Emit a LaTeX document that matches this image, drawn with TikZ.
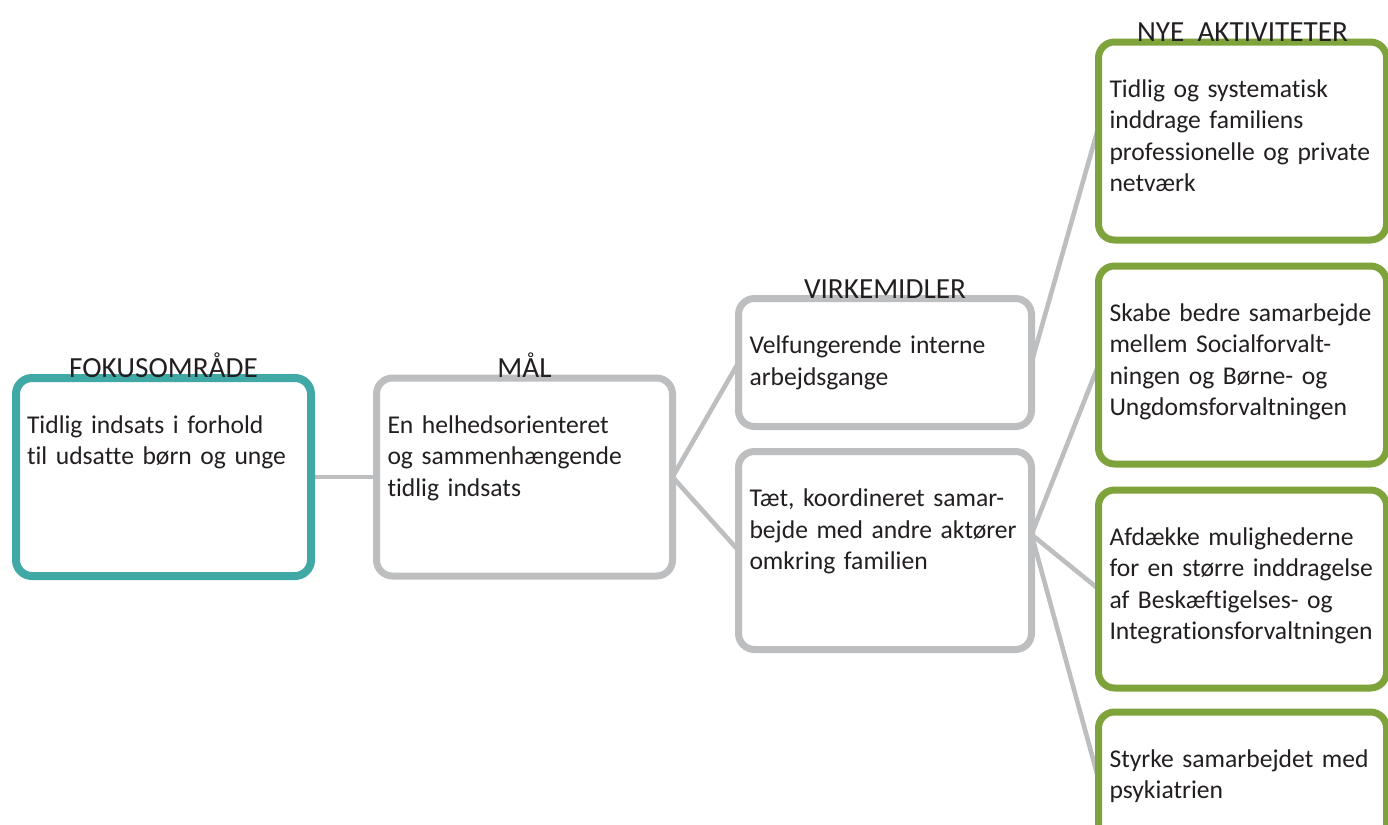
\documentclass[tikz,border=0pt]{standalone}
\usepackage{fontspec}
\setmainfont{Carlito}[Ligatures={NoCommon}]
\usetikzlibrary{positioning,backgrounds}
\definecolor{fokusteal}{HTML}{40A8A5}
\definecolor{boxgrey}{HTML}{BDBEC0}
\definecolor{aktgreen}{HTML}{7DA33A}
\definecolor{textdark}{HTML}{231F20}
\newcommand{\boxfont}{\fontsize{12.8pt}{15.8pt}\selectfont}
\newcommand{\headfont}{\fontsize{14.6pt}{16pt}\selectfont}
\hyphenpenalty=10000
\tikzset{
    box/.style={rectangle,draw=boxgrey,line width=3.5pt,rounded corners=8pt,fill=white,
        align=left,text width=135.5pt,inner xsep=5.5pt,inner ysep=0pt,outer sep=0pt,
        text height=27.5pt,text depth=71.5pt,text=textdark,font=\boxfont,
        label distance=2pt},
    fokusbox/.style={box,draw=fokusteal,line width=4pt,text width=136.5pt},
    aktbox/.style={box,draw=aktgreen,text width=133pt},
    head/.style={inner sep=0pt,text=textdark,font=\headfont},
    link/.style={draw=boxgrey,line width=2.3pt}
}

\begin{document}
\begin{tikzpicture}
    \useasboundingbox (0,0) rectangle (694pt,-412.5pt);

    \node[fokusbox] (fokus) at (81.75pt,-238.5pt) [label={[head]above:FOKUSOMRÅDE}]
        {Tidlig indsats i forhold\\til udsatte børn og unge};
    \node[box,text width=137pt] (maal) [right=32.75pt of fokus,label={[head]above:MÅL}]
        {En helhedsorienteret\\og sammenhængende\\tidlig indsats};

    \node[box,text depth=36.5pt] (virk1) [right=33pt of maal,yshift=57.25pt,label={[head]above:VIRKEMIDLER}]
        {Velfungerende interne\\arbejdsgange};
    \node[box] (virk2) [below=12.5pt of virk1]
        {Tæt, koordineret samar-\\bejde med andre aktører\\omkring familien};

    \node[aktbox] (akt1) [right=33.5pt of virk1,yshift=110.75pt,label={[head]above:NYE~~AKTIVITETER}]
        {Tidlig og systematisk\\inddrage familiens\\professionelle og private\\netværk};
    \node[aktbox] (akt2) [below=13pt of akt1]
        {Skabe bedre samarbejde\\mellem Socialforvalt-\\ningen og Børne- og\\Ungdomsforvaltningen};
    \node[aktbox] (akt3) [below=13pt of akt2]
        {Afdække mulighederne\\for en større inddragelse\\af Beskæftigelses- og\\Integrationsforvaltningen};
    \node[aktbox] (akt4) [below=12pt of akt3]
        {Styrke samarbejdet med\\psykiatrien};

    \coordinate (v2out) at ([yshift=8pt]virk2.east);

    \begin{scope}[on background layer]
        \draw[link] (fokus.east) -- (maal.west);
        \draw[link] (maal.east) -- (virk1.west);
        \draw[link] (maal.east) -- (virk2.west);
        \draw[link] (virk1.east) -- ([yshift=7pt]akt1.west);
        \draw[link] (v2out) -- (akt2.west);
        \draw[link] (v2out) -- (akt3.west);
        \draw[link] (v2out) -- ([yshift=16pt]akt4.west);
    \end{scope}
\end{tikzpicture}
\end{document}
